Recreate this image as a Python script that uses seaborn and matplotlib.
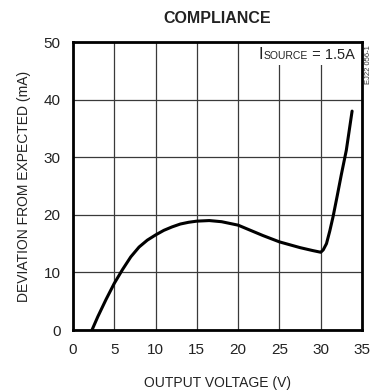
import matplotlib
matplotlib.use("Agg")
import matplotlib.pyplot as plt
import seaborn as sns
import pandas as pd
from matplotlib.patches import Rectangle

voltage = [2.3, 3.0, 4.0, 5.0, 6.0, 7.0, 8.0, 9.0, 10.0, 11.0, 12.0, 13.0, 14.0, 15.0,
           16.5, 18.0, 19.0, 20.0, 21.5, 23.0, 25.0, 27.5, 29.0, 30.0, 30.3, 30.7,
           31.1, 31.5, 32.0, 32.5, 33.1, 33.8]
deviation = [0.0, 2.3, 5.3, 8.1, 10.5, 12.7, 14.4, 15.6, 16.5, 17.3, 17.9, 18.4, 18.7, 18.9,
             19.0, 18.8, 18.5, 18.2, 17.3, 16.4, 15.3, 14.3, 13.8, 13.5, 13.9, 15.0,
             17.2, 19.7, 23.3, 27.0, 31.2, 38.0]
x_ticks = [0, 5, 10, 15, 20, 25, 30, 35]
y_ticks = [0, 10, 20, 30, 40, 50]

title = "COMPLIANCE"
x_label = "OUTPUT VOLTAGE (V)"
y_label = "DEVIATION FROM EXPECTED (mA)"

sns.set_theme(style="white")
plt.rcParams['font.family'] = ['Liberation Sans', 'DejaVu Sans']

df = pd.DataFrame({"v": voltage, "d": deviation})

fig = plt.figure(figsize=(3.76, 3.92), dpi=100)
ax = fig.add_axes([73/376, 62/392, 289/376, 288/392])

ax.set_xlim(0, 35)
ax.set_ylim(0, 50)
ax.set_xticks(x_ticks)
ax.set_yticks(y_ticks)
ax.grid(True, color="#3a3a3a", linewidth=0.9)
ax.set_axisbelow(True)

# white area behind the annotation hides the top of the grid lines there
ax.add_patch(Rectangle((22.0, 46.0), 13.0, 4.0, facecolor="white", edgecolor="none", zorder=1.5))

sns.lineplot(data=df, x="v", y="d", ax=ax, color="black", linewidth=2.2, sort=False, zorder=3)

for s in ax.spines.values():
    s.set_linewidth(2.0)
    s.set_color("black")
    s.set_zorder(4)

txt = "#222222"
ax.tick_params(axis="both", length=0, labelsize=11, colors=txt)
ax.tick_params(axis="x", pad=9)
ax.tick_params(axis="y", pad=9)

ax.set_xlabel(x_label, fontsize=10, color=txt, labelpad=14)
ax.set_ylabel(y_label, fontsize=10, color=txt, labelpad=9)
ax.set_title(title, fontsize=11.5, fontweight="bold", pad=13.5, color=txt)

t1 = ax.text(22.5, 47.05, "I", fontsize=12, color=txt, zorder=5)
t2 = ax.annotate("SOURCE", xy=(1, 0), xycoords=t1, xytext=(0, 1.2), textcoords="offset pixels",
                 fontsize=7.5, color=txt, va="bottom", ha="left", zorder=5)
ax.annotate(" = 1.5A", xy=(1, 0), xycoords=t2, xytext=(0, -1.2), textcoords="offset pixels",
            fontsize=10.5, color=txt, va="bottom", ha="left", zorder=5)

fig.text(368/376, 1 - 65/392, "EJ22 056-1", rotation=90, fontsize=5.5,
         ha="center", va="center", color="#333333")

fig.savefig("out.png", dpi=100)
